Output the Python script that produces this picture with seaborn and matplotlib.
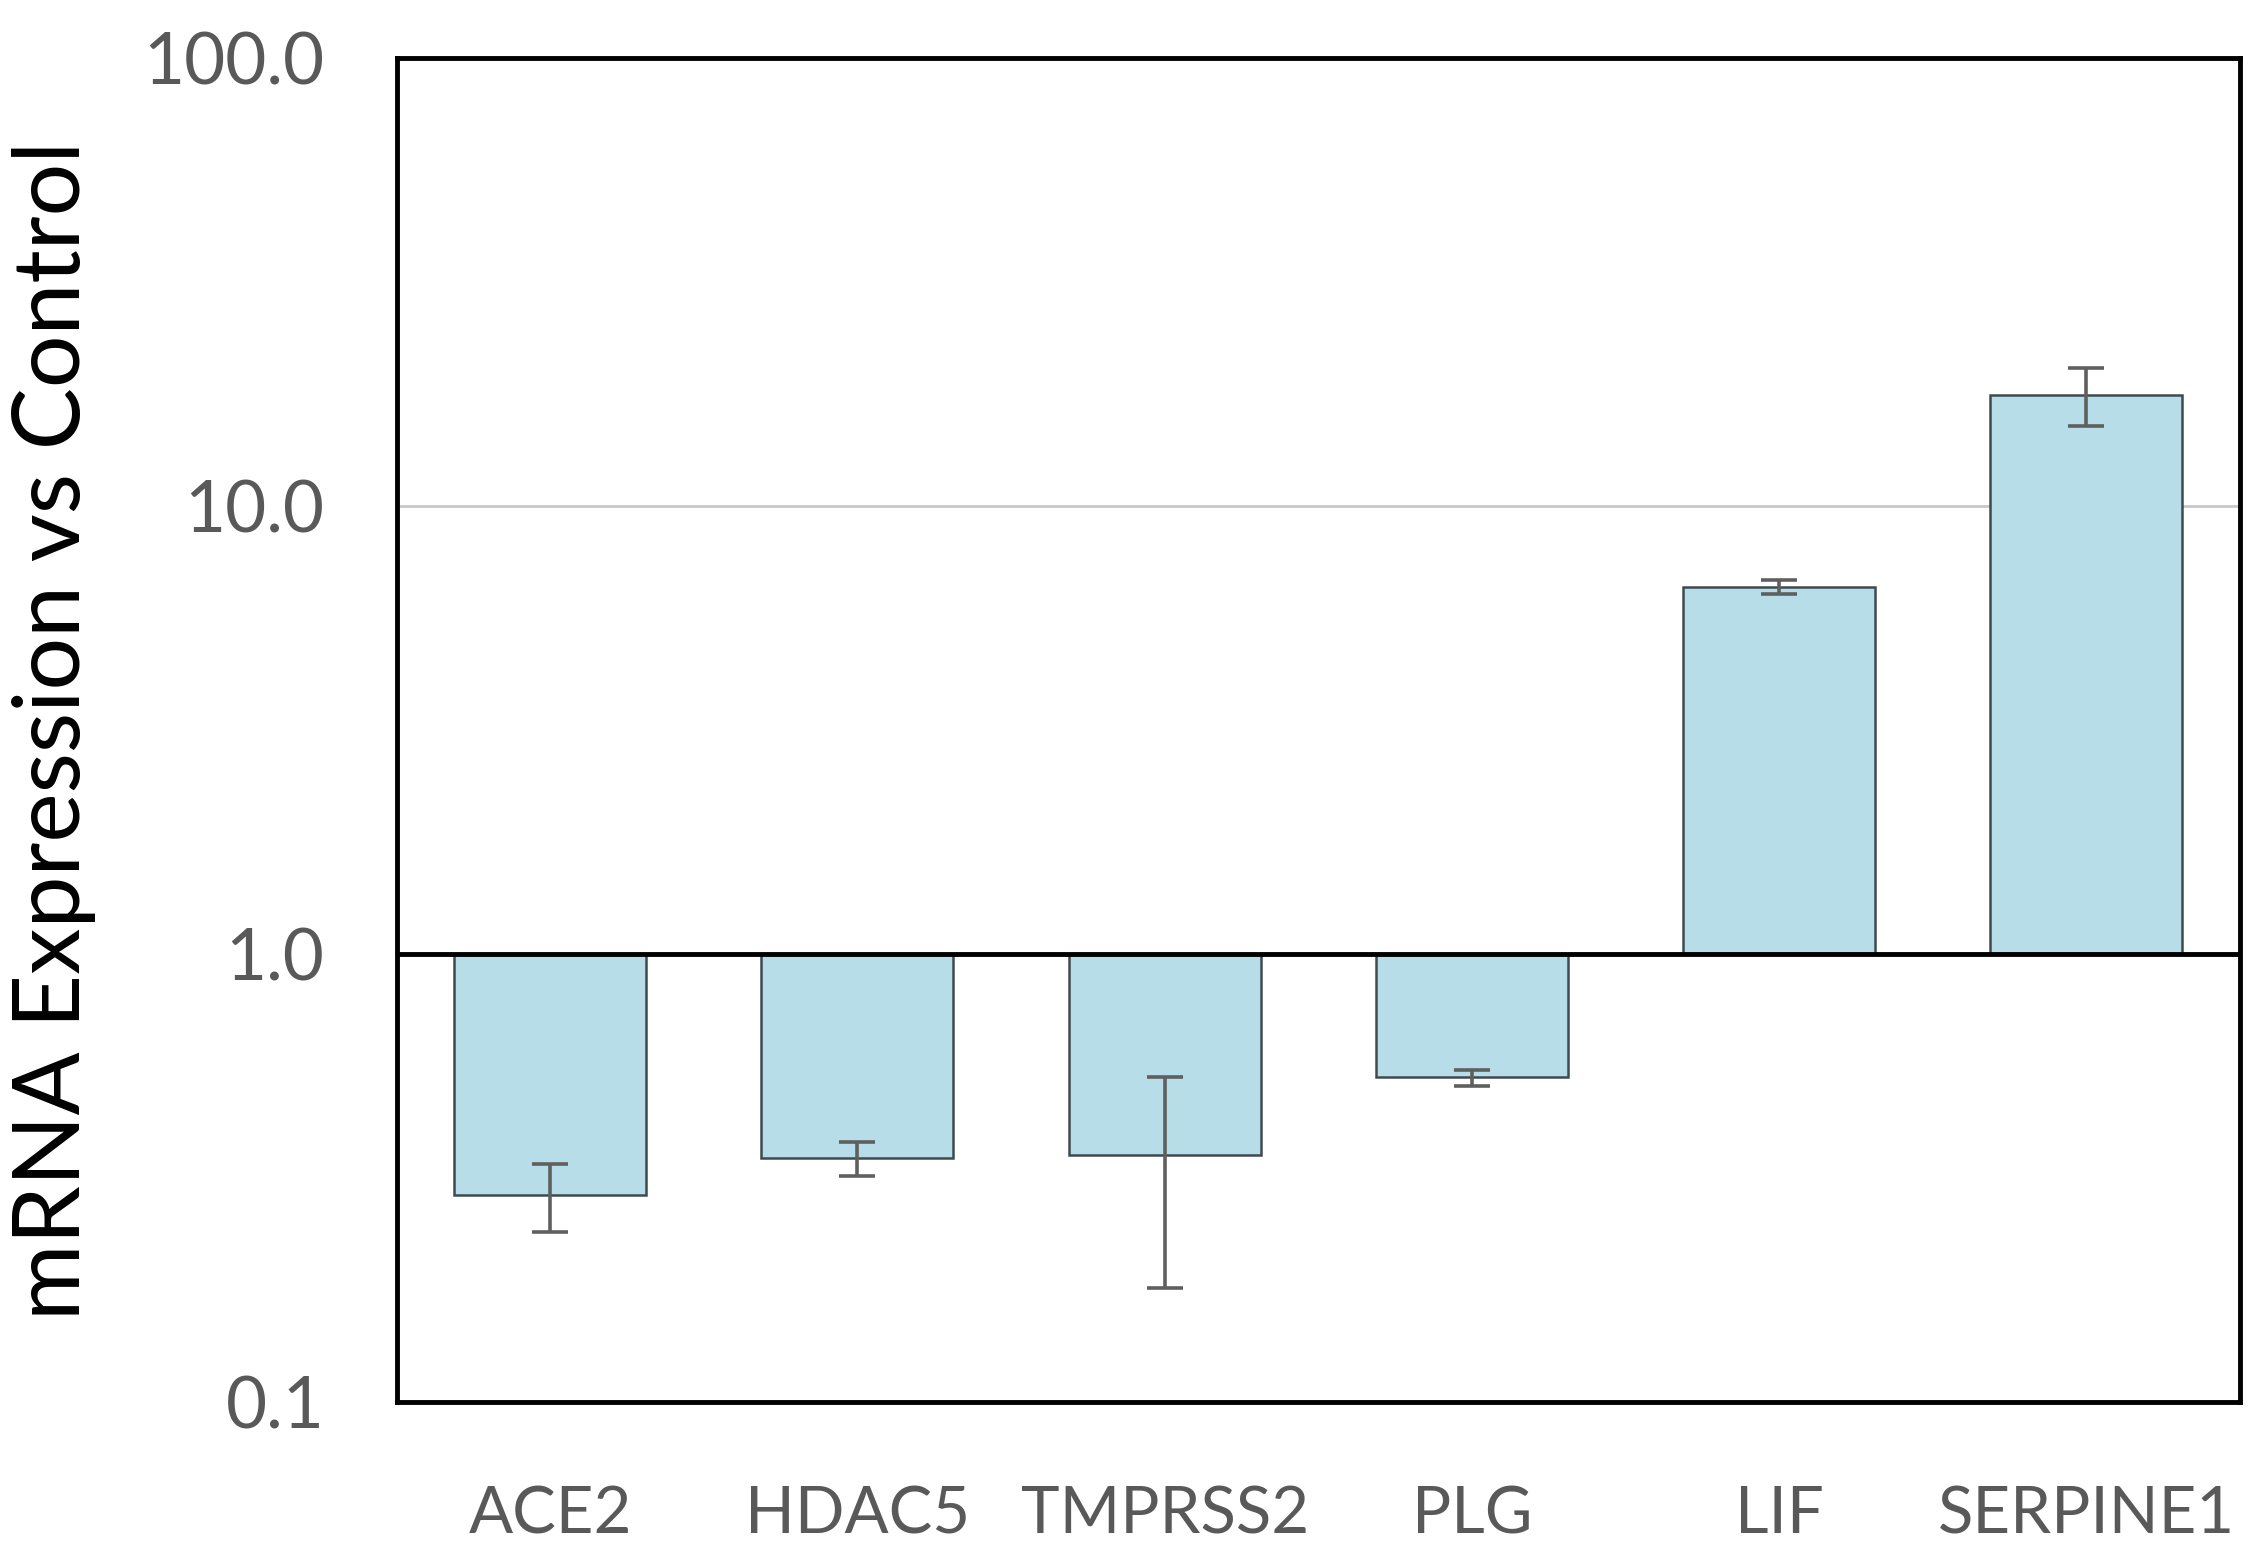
import numpy as np
import pandas as pd
import matplotlib
matplotlib.use("Agg")
import matplotlib.pyplot as plt
import seaborn as sns

# valores (expressão relativa ao controle, escala log)
genes = ["ACE2", "HDAC5", "TMPRSS2", "PLG", "LIF", "SERPINE1"]
expressao = [0.29, 0.35, 0.355, 0.53, 6.6, 17.7]
erro = [0.05, 0.03, 0.175, 0.022, 0.25, 2.6]
ticks_y = [0.1, 1.0, 10.0, 100.0]

sns.set_theme(style="white")
plt.rcParams["font.family"] = ["Lato", "DejaVu Sans"]

df = pd.DataFrame({"gene": genes, "expr": expressao, "err": erro})
df["delta"] = df["expr"] - 1.0  # barras partem de 1.0

fig = plt.figure(figsize=(22.66, 15.64), dpi=100)
ax = fig.add_axes([0.175, 0.1036, 0.8135, 0.8594])

sns.barplot(data=df, x="gene", y="delta", bottom=1.0, color="#B7DEE8",
            saturation=1, width=0.625, edgecolor="#3F4A4F", linewidth=1.8,
            errorbar=None, ax=ax)
ax.set_yscale("log")

ax.errorbar(np.arange(len(genes)), df["expr"], yerr=df["err"], fmt="none",
            ecolor="#5F5F5F", elinewidth=2.6, capsize=13, capthick=2.6, zorder=4)

# linha de referência e grade
ax.axhline(10.0, color="#C8C8C8", linewidth=2, zorder=0)
ax.axhline(1.0, color="black", linewidth=3.5, zorder=5)

ax.set_ylim(0.1, 100)
ax.set_xlim(-0.5, len(genes) - 0.5)
ax.set_yticks(ticks_y)
ax.set_yticklabels([f"{t:.1f}" for t in ticks_y])
ax.minorticks_off()
ax.tick_params(axis="y", which="major", direction="in", length=10, width=3,
               color="black", labelsize=51, labelcolor="#595959", pad=52)
ax.tick_params(axis="x", length=0, labelsize=47, labelcolor="#595959", pad=60)

for s in ax.spines.values():
    s.set_visible(True)
    s.set_color("black")
    s.set_linewidth(3.5)

ax.set_xlabel("")
ax.set_ylabel("mRNA Expression vs Control", fontsize=67, color="black")
ax.yaxis.set_label_coords(-0.163, 0.5)

fig.savefig("out.png", dpi=100, facecolor="white")
